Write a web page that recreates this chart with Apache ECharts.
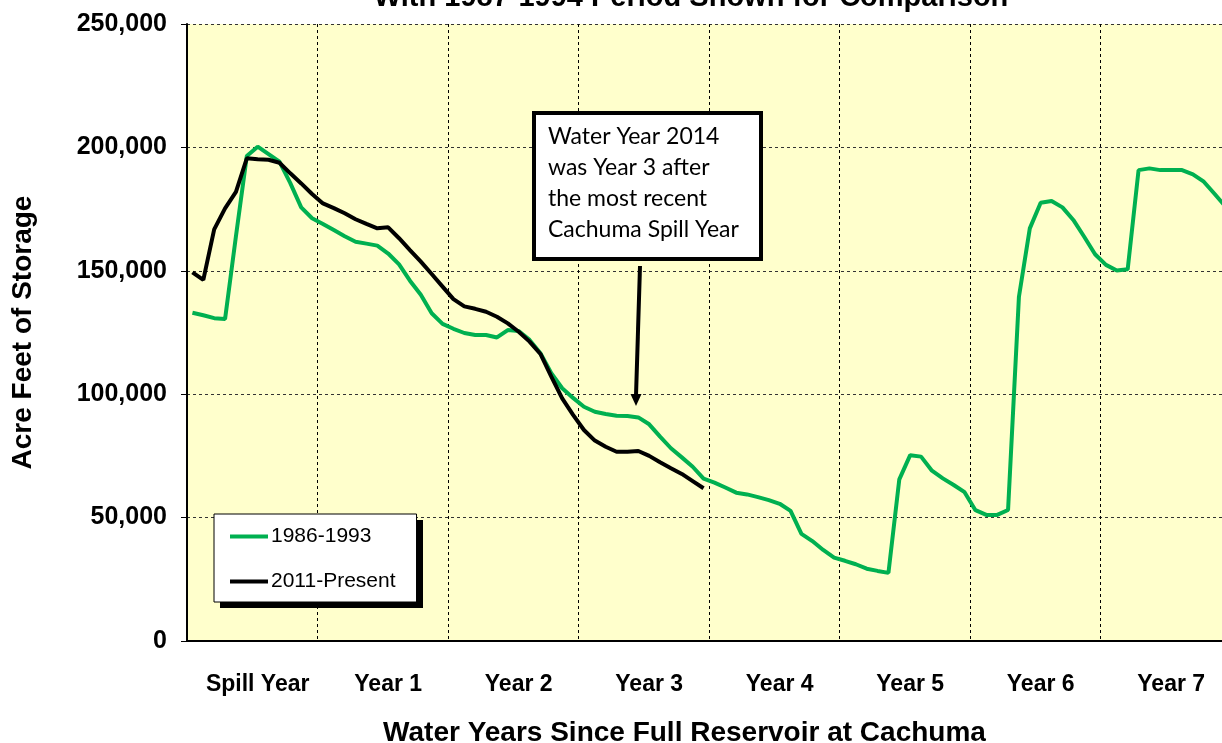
<!DOCTYPE html>
<html>
<head>
<meta charset="utf-8">
<script src="https://cdn.jsdelivr.net/npm/echarts@6/dist/echarts.min.js"></script>
<style>
  html, body { margin: 0; padding: 0; background: #fff; }
  #storage { width: 1222px; height: 743px; }
</style>
</head>
<body>
<div id="storage"></div>
<script>
// water years on the x axis, 12 months each
var yearLabels = ['Spill Year', 'Year 1', 'Year 2', 'Year 3', 'Year 4', 'Year 5', 'Year 6', 'Year 7'];

// end of month storage, acre feet
var storage1986 = [
  133000, 132000, 130800, 130500, 164000, 196500, 200300, 197300, 194200, 185500, 175700, 171300,
  169000, 166500, 164000, 161800, 161000, 160200, 157000, 152600, 146000, 140300, 132800, 128500,
  126500, 124800, 124000, 124000, 123000, 126000, 125600, 122000, 116600, 108500, 102400, 98500,
  94900, 92900, 92000, 91300, 91200, 90600, 87800, 82800, 78100, 74400, 70600, 65800,
  64200, 62200, 60100, 59400, 58300, 57100, 55600, 52700, 43400, 40500, 36900, 33800,
  32500, 31100, 29300, 28400, 27600, 65500, 75300, 74700, 69000, 65900, 63200, 60300,
  53000, 51100, 51100, 53100, 139500, 167200, 177600, 178300, 175700, 170600, 163800, 156700,
  152400, 150100, 150600, 190800, 191500, 190800, 190800, 190800, 189100, 186100, 181100, 176000
];
var storage2011 = [
  149400, 146300, 166800, 175300, 182000, 195600, 195200, 195000, 193800, 189500, 185400, 181100,
  177300, 175400, 173300, 170900, 169000, 167200, 167600, 163200, 158400, 153700, 148700, 143600,
  138500, 135600, 134600, 133400, 131400, 128700, 125300, 121300, 116300, 107100, 98300, 91600,
  85500, 81200, 78700, 76700, 76700, 77000, 75000, 72400, 70000, 67700, 64800, 61900
];

var months = [];
for (var i = 0; i < yearLabels.length * 12; i++) months.push(String(i));

var font = 'Liberation Sans, Arial, sans-serif';

var dom = document.getElementById('storage');
var myChart = echarts.init(dom, null, { renderer: 'canvas' });

var option = {
  animation: false,
  grid: {
    left: 187, top: 24, right: -9, bottom: 102,
    outerBoundsMode: 'none',
    show: true, backgroundColor: '#FFFFCC', borderWidth: 0
  },
  legend: {
    orient: 'vertical',
    left: 214, top: 514,
    padding: [12, 21, 10, 16],
    itemGap: 24,
    itemWidth: 38, itemHeight: 4,
    icon: 'rect',
    backgroundColor: '#fff',
    borderColor: '#000', borderWidth: 1,
    textStyle: { fontFamily: font, fontSize: 21, color: '#000', padding: [0, 0, 0, -2] },
    data: ['1986-1993', '2011-Present']
  },
  xAxis: {
    type: 'category',
    data: months,
    boundaryGap: true,
    name: 'Water Years Since Full Reservoir at Cachuma',
    nameLocation: 'middle',
    nameGap: 78,
    nameTextStyle: { fontFamily: font, fontWeight: 'bold', fontSize: 28, color: '#000', padding: [0, 49, 0, 0] },
    axisLine: { lineStyle: { color: '#000', width: 2 } },
    axisTick: {
      interval: function (i) { return i % 12 === 0; },
      length: 6, lineStyle: { color: '#000' }
    },
    axisLabel: {
      interval: function (i) { return i % 12 === 6; },
      formatter: function (v, i) { return yearLabels[Math.floor(i / 12)]; },
      fontFamily: font, fontWeight: 'bold', fontSize: 23, color: '#000', margin: 32
    },
    splitLine: {
      show: true,
      interval: function (i) { return i % 12 === 0; },
      lineStyle: { color: '#000', width: 1, type: [3, 3] }
    }
  },
  yAxis: {
    type: 'value',
    min: 0, max: 250000, interval: 50000,
    name: 'Acre Feet of Storage',
    nameLocation: 'middle',
    nameGap: 150,
    nameTextStyle: { fontFamily: font, fontWeight: 'bold', fontSize: 28, color: '#000' },
    axisLine: { show: true, lineStyle: { color: '#000', width: 2 } },
    axisTick: { show: true, length: 6, lineStyle: { color: '#000' } },
    axisLabel: {
      formatter: function (v) { return v.toLocaleString('en-US'); },
      fontFamily: font, fontWeight: 'bold', fontSize: 25, color: '#000', margin: 20
    },
    splitLine: { lineStyle: { color: '#333', width: 1, type: [3, 3] } }
  },
  series: [
    {
      name: '1986-1993', type: 'line', data: storage1986,
      showSymbol: false, lineStyle: { color: '#00B050', width: 4 }, itemStyle: { color: '#00B050' }
    },
    {
      name: '2011-Present', type: 'line', data: storage2011,
      showSymbol: false, lineStyle: { color: '#000', width: 4 }, itemStyle: { color: '#000' }
    }
  ],
  graphic: [
    {
      type: 'text', x: 691, y: 12,
      style: {
        text: 'With 1987-1994 Period Shown for Comparison',
        font: 'bold 29px ' + font, fill: '#000',
        textAlign: 'center', textVerticalAlign: 'bottom'
      }
    },
    // legend drop shadow
    {
      type: 'rect', z: 3,
      shape: { x: 220, y: 520, width: 203, height: 88 },
      style: { fill: '#000' }
    },
    {
      type: 'rect', z: 100,
      shape: { x: 534, y: 113, width: 227, height: 146 },
      style: { fill: '#fff', stroke: '#000', lineWidth: 4 }
    },
    {
      type: 'text', z: 101, x: 548, y: 121,
      style: {
        text: 'Water Year 2014\nwas Year 3 after\nthe most recent\nCachuma Spill Year',
        font: '23px Lato, Carlito, sans-serif', fill: '#000', lineHeight: 31
      }
    },
    {
      type: 'line', z: 100,
      shape: { x1: 640, y1: 266, x2: 636, y2: 396 },
      style: { stroke: '#000', lineWidth: 4 }
    },
    {
      type: 'polygon', z: 100,
      shape: { points: [[630.5, 394], [641.5, 394], [636, 406]] },
      style: { fill: '#000' }
    }
  ]
};

myChart.setOption(option);
window.addEventListener('resize', myChart.resize);
</script>
</body>
</html>
